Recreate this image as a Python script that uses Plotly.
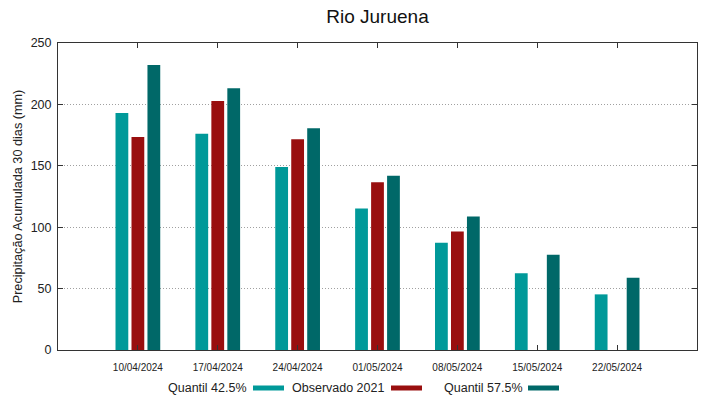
import plotly.graph_objects as go

dates = ["10/04/2024", "17/04/2024", "24/04/2024", "01/05/2024",
         "08/05/2024", "15/05/2024", "22/05/2024"]
quantil_425 = [193.0, 176.2, 149.1, 115.2, 87.3, 62.6, 45.3]
observado_2021 = [173.5, 202.8, 171.6, 136.6, 96.5, None, None]
quantil_575 = [232.0, 213.1, 180.5, 141.8, 108.7, 77.5, 58.8]

series_names = ["Quantil 42.5%", "Observado 2021", "Quantil 57.5%"]
colors = ["#009999", "#990f0f", "#006868"]

x_idx = list(range(len(dates)))
FONT = "Liberation Sans, Arial, sans-serif"

fig = go.Figure()
for name, vals, col in zip(series_names, [quantil_425, observado_2021, quantil_575], colors):
    fig.add_trace(go.Bar(x=x_idx, y=vals, name=name, marker_color=col,
                         marker_line_width=0, showlegend=False))

W, H = 719, 399
L, R, T, B = 58, 22, 43, 49
pw = W - L - R
ph = H - T - B

def px_x(p):
    return (p - L) / pw

def px_y(p):
    return (H - B - p) / ph

annotations = []
shapes = []
legend_text_right = [249, 386, 525]
legend_sw = [(253, 284), (391, 422), (528, 559)]
ly = 388
for name, col, tr, (s0, s1) in zip(series_names, colors, legend_text_right, legend_sw):
    annotations.append(dict(text=name, x=px_x(tr), y=px_y(ly), xref="paper", yref="paper",
                            xanchor="right", yanchor="middle", showarrow=False,
                            font=dict(size=12.5, color="#222222", family=FONT)))
    shapes.append(dict(type="rect", xref="paper", yref="paper",
                       x0=px_x(s0), x1=px_x(s1), y0=px_y(ly + 2.5), y1=px_y(ly - 2.5),
                       fillcolor=col, line=dict(width=0)))

fig.update_layout(
    width=W, height=H,
    margin=dict(l=L, r=R, t=T, b=B, autoexpand=False),
    paper_bgcolor="white", plot_bgcolor="white",
    barmode="group", bargap=0.4, bargroupgap=0.2,
    font=dict(family=FONT, color="#222222"),
    title=dict(text="Rio Juruena", x=0.5, xref="paper", xanchor="center",
               y=1 - 16 / H, yanchor="middle", font=dict(size=19, color="#111111")),
    annotations=annotations, shapes=shapes,
)
fig.update_xaxes(range=[-1, 7], tickmode="array", tickvals=x_idx, ticktext=dates,
                 ticks="inside", ticklen=5, tickcolor="#333333", mirror="ticks",
                 showline=True, linecolor="#333333", linewidth=1, showgrid=False,
                 zeroline=False, tickfont=dict(size=10, color="#222222"),
                 ticklabelstandoff=8)
fig.update_yaxes(range=[0, 250], tickvals=[0, 50, 100, 150, 200, 250],
                 ticks="inside", ticklen=5, tickcolor="#333333", mirror="ticks",
                 showline=True, linecolor="#333333", linewidth=1,
                 showgrid=True, gridcolor="#a0a0a0", griddash="1px,2px", gridwidth=1,
                 zeroline=False, tickfont=dict(size=12.5, color="#222222"),
                 ticklabelstandoff=3,
                 title=dict(text="Precipitação Acumulada 30 dias (mm)",
                            font=dict(size=12.7, color="#222222"), standoff=5))

fig.write_html("out.html", config={"displayModeBar": False},
               post_script="document.body.style.margin='0';")
